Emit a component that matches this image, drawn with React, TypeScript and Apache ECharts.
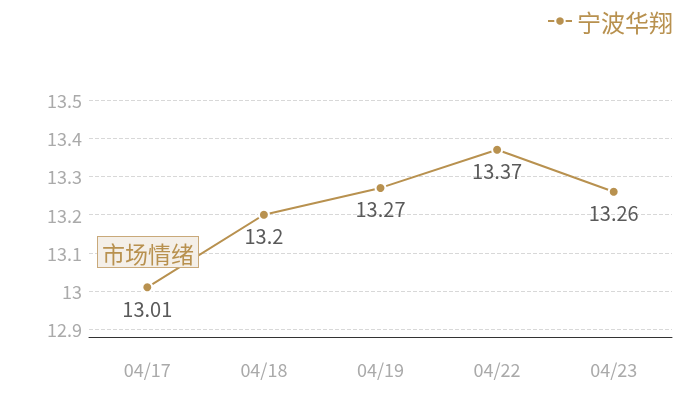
import React, { useEffect, useRef } from "react";
import * as echarts from "echarts";

const categories = ["04/17", "04/18", "04/19", "04/22", "04/23"];
const values = [13.01, 13.2, 13.27, 13.37, 13.26];
const seriesName = "宁波华翔";
const tagText = "市场情绪";

const GOLD = "#b8914f";
const FONT = "'Noto Sans CJK SC', 'Noto Sans', sans-serif";

export default function App() {
  const ref = useRef<HTMLDivElement>(null);
  useEffect(() => {
    if (!ref.current) return;
    const chart = echarts.init(ref.current, null, { renderer: "svg" });
    chart.setOption({
      animation: false,
      textStyle: { fontFamily: FONT },
      legend: {
        right: 22,
        top: 4,
        itemWidth: 24,
        itemHeight: 12,
        itemGap: 6,
        textStyle: { color: GOLD, fontSize: 24, fontFamily: FONT },
        data: [seriesName],
      },
      grid: { left: 89, right: 28, top: 100, bottom: 63 },
      xAxis: {
        type: "category",
        data: categories,
        boundaryGap: true,
        axisLine: { lineStyle: { color: "#333", width: 1 } },
        axisTick: { show: false },
        axisLabel: { color: "#aaa", fontSize: 18, margin: 23, fontFamily: FONT },
      },
      yAxis: {
        type: "value",
        min: 12.88,
        max: 13.5,
        splitNumber: 6,
        axisLine: { show: false },
        axisTick: { show: false },
        axisLabel: {
          color: "#aaa",
          fontSize: 18,
          margin: 7,
          fontFamily: FONT,
          formatter: (v: number) =>
            Math.abs(v * 10 - Math.round(v * 10)) < 1e-6 ? String(Math.round(v * 10) / 10) : "",
        },
        splitLine: { lineStyle: { color: "#d8d8d8", type: "dashed", width: 1 } },
      },
      series: [
        {
          name: seriesName,
          type: "line",
          data: values,
          symbol: "circle",
          symbolSize: 10,
          itemStyle: { color: GOLD, borderColor: "#fff", borderWidth: 2 },
          lineStyle: { color: GOLD, width: 2 },
          label: {
            show: true,
            position: "bottom",
            distance: 5,
            color: "#5a5a5a",
            fontSize: 20,
            fontFamily: FONT,
          },
        },
      ],
      graphic: [
        {
          type: "text",
          left: 97,
          top: 236,
          style: {
            text: tagText,
            fontSize: 23,
            fontFamily: FONT,
            fill: GOLD,
            backgroundColor: "#f4efe8",
            borderColor: "#c9a97a",
            borderWidth: 1,
            padding: [4, 4, 3, 4],
          },
          z: 100,
        },
      ],
    });
    return () => chart.dispose();
  }, []);
  return (
    <div
      ref={ref}
      style={{ position: "fixed", left: 0, top: 0, width: 700, height: 400 }}
    />
  );
}
